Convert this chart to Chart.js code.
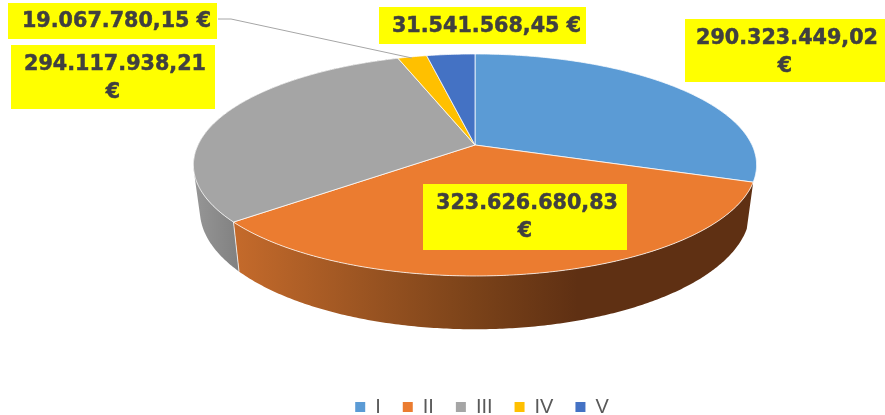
<!DOCTYPE html>
<html>
<head>
<meta charset="utf-8">
<style>
  html, body { margin: 0; background: #fff; }
  canvas { display: block; }
</style>
<script src="https://cdn.jsdelivr.net/npm/chart.js@4/dist/chart.umd.min.js"></script>
</head>
<body>
<canvas id="pieChart" width="885" height="415"></canvas>
<script>
const categories = ['I', 'II', 'III', 'IV', 'V'];
const amounts = [290323449.02, 323626680.83, 294117938.21, 19067780.15, 31541568.45];
const sliceColors = ['#5B9BD5', '#EB7C30', '#A5A5A5', '#FFC000', '#4472C4'];

// yellow label boxes, same order as the categories
const labelBoxes = [
  { x: 685, y: 19, w: 200, h: 63, twoLines: true },
  { x: 423, y: 184, w: 204, h: 66, twoLines: true },
  { x: 11, y: 45, w: 204, h: 64, twoLines: true },
  { x: 8, y: 3, w: 209, h: 36, twoLines: false },
  { x: 379, y: 7, w: 207, h: 37, twoLines: false }
];

// perspective of the tilted disc: top face and bottom face
const tilt = -0.18;
const topFace = { y: 145, h: 107.4, r: 1 };
const bottomFace = { y: 189, h: 115, r: 0.977 };

function project(arc, face, angle) {
  const w = 1 + tilt * Math.sin(angle);
  return {
    x: arc.x + arc.outerRadius * face.r * Math.cos(angle) / w,
    y: face.y + face.h * Math.sin(angle) / w
  };
}

function anglesOf(arc) {
  const list = [];
  const steps = Math.max(2, Math.ceil((arc.endAngle - arc.startAngle) / 0.01));
  for (let i = 0; i <= steps; i++) {
    list.push(arc.startAngle + (arc.endAngle - arc.startAngle) * i / steps);
  }
  return list;
}

// only II and III show a wall, the others sit behind the top face
function wallFill(ctx, index) {
  if (index === 1) {
    const g = ctx.createLinearGradient(190, 0, 760, 0);
    g.addColorStop(0, '#C86C2C');
    g.addColorStop(0.08, '#C46A2B');
    g.addColorStop(0.3, '#9C5522');
    g.addColorStop(0.5, '#7A4219');
    g.addColorStop(0.68, '#5F3013');
    g.addColorStop(1, '#5F3013');
    return g;
  }
  if (index === 2) {
    const grey = ctx.createLinearGradient(192, 0, 240, 0);
    grey.addColorStop(0, '#979797');
    grey.addColorStop(1, '#808080');
    return grey;
  }
  return null;
}

// all quads in one path with the same winding, so no seams and no holes at the fold
function drawWall(ctx, arc, index) {
  const fill = wallFill(ctx, index);
  if (!fill) return;
  const angles = anglesOf(arc);
  ctx.beginPath();
  for (let i = 1; i < angles.length; i++) {
    const quad = [
      project(arc, topFace, angles[i - 1]),
      project(arc, topFace, angles[i]),
      project(arc, bottomFace, angles[i]),
      project(arc, bottomFace, angles[i - 1])
    ];
    let area = 0;
    quad.forEach((p, j) => {
      const q = quad[(j + 1) % 4];
      area += p.x * q.y - q.x * p.y;
    });
    if (area < 0) quad.reverse();
    ctx.moveTo(quad[0].x, quad[0].y);
    quad.slice(1).forEach(p => ctx.lineTo(p.x, p.y));
    ctx.closePath();
  }
  ctx.fillStyle = fill;
  ctx.fill();
}

function drawWallSeam(ctx, arc) {
  const a = project(arc, topFace, arc.startAngle);
  const b = project(arc, bottomFace, arc.startAngle);
  ctx.beginPath();
  ctx.moveTo(a.x, a.y);
  ctx.lineTo(b.x, b.y);
  ctx.strokeStyle = 'rgba(255,255,255,0.75)';
  ctx.lineWidth = 1;
  ctx.stroke();
}

function drawFace(ctx, arc, color) {
  ctx.beginPath();
  ctx.moveTo(arc.x, topFace.y);
  anglesOf(arc).forEach(a => {
    const p = project(arc, topFace, a);
    ctx.lineTo(p.x, p.y);
  });
  ctx.closePath();
  ctx.fillStyle = color;
  ctx.fill();
  ctx.strokeStyle = 'rgba(255,255,255,0.75)';
  ctx.lineWidth = 1;
  ctx.stroke();
}

function formatAmount(value) {
  return value.toLocaleString('de-DE', { minimumFractionDigits: 2, maximumFractionDigits: 2 });
}

function drawLabels(ctx) {
  // leader line of the IV label
  ctx.beginPath();
  ctx.moveTo(218, 19);
  ctx.lineTo(231, 19);
  ctx.lineTo(412, 58);
  ctx.strokeStyle = '#A6A6A6';
  ctx.lineWidth = 1;
  ctx.stroke();

  ctx.font = 'bold 20.7px "DejaVu Sans"';
  ctx.textAlign = 'center';
  ctx.textBaseline = 'middle';
  ctx.strokeStyle = '#404040';
  ctx.lineWidth = 0.5;
  labelBoxes.forEach((box, i) => {
    ctx.fillStyle = '#FFFF00';
    ctx.fillRect(box.x, box.y, box.w, box.h);
    ctx.fillStyle = '#404040';
    const mid = box.x + box.w / 2;
    const text = formatAmount(amounts[i]);
    if (box.twoLines) {
      ctx.fillText(text, mid + 2, box.y + 20);
      ctx.strokeText(text, mid + 2, box.y + 20);
      ctx.fillText('€', mid, box.y + 48);
      ctx.strokeText('€', mid, box.y + 48);
    } else {
      ctx.fillText(text + ' €', mid + 4, box.y + box.h / 2 + 1);
      ctx.strokeText(text + ' €', mid + 4, box.y + box.h / 2 + 1);
    }
  });
}

const disc3d = {
  id: 'disc3d',
  afterLayout(chart) {
    chart.legend.top += 12;
    chart.legend.bottom += 12;
    chart.legend.left += 7;
    chart.legend.right += 7;
  },
  beforeDatasetsDraw(chart) {
    const ctx = chart.ctx;
    const arcs = chart.getDatasetMeta(0).data;
    ctx.save();
    arcs.forEach((arc, i) => drawWall(ctx, arc, i));
    drawWallSeam(ctx, arcs[2]);
    arcs.forEach((arc, i) => drawFace(ctx, arc, sliceColors[i]));
    drawLabels(ctx);
    ctx.restore();
    return false;
  }
};

new Chart(document.getElementById('pieChart'), {
  type: 'pie',
  data: {
    labels: categories,
    datasets: [{
      data: amounts,
      backgroundColor: sliceColors,
      borderWidth: 0
    }]
  },
  options: {
    responsive: false,
    animation: false,
    radius: 277,
    layout: { padding: { left: 65 } },
    plugins: {
      tooltip: { enabled: false },
      legend: {
        position: 'bottom',
        labels: {
          boxWidth: 10,
          boxHeight: 10,
          padding: 22,
          color: '#595959',
          font: { family: '"Liberation Sans"', size: 20 }
        }
      }
    }
  },
  plugins: [disc3d]
});
</script>
</body>
</html>
